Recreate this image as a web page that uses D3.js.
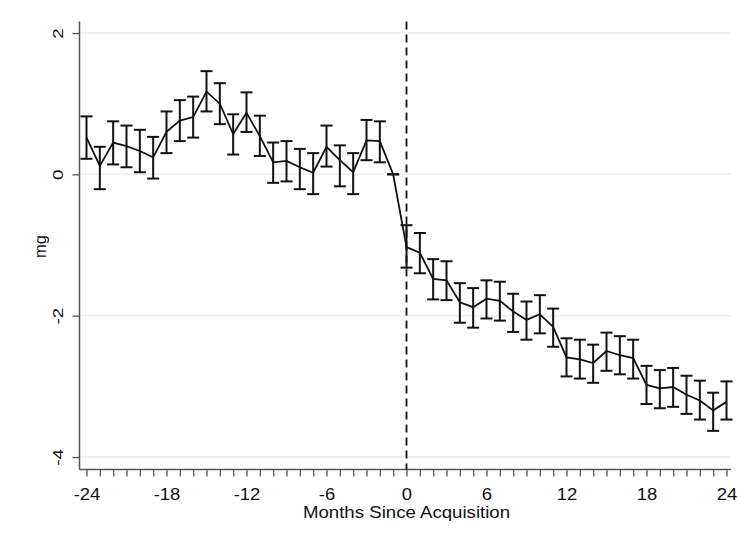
<!DOCTYPE html>
<html>
<head>
<meta charset="utf-8">
<script src="https://cdn.jsdelivr.net/npm/d3@7"></script>
<style>
  body { margin: 0; background: #fff; }
  svg text { font-family: "Liberation Sans", Arial, sans-serif; fill: #111; }
</style>
</head>
<body>
<svg width="741" height="540"></svg>
<script>
// months since acquisition
const months = d3.range(-24, 25)

// point estimates (mg)
const estimate = [
  0.52, 0.12, 0.45, 0.40, 0.33, 0.24, 0.60, 0.76, 0.81, 1.17, 1.00, 0.57,
  0.87, 0.54, 0.17, 0.19, 0.10, 0.02, 0.39, 0.20, 0.03, 0.48, 0.47, 0.00,
  -1.03, -1.11, -1.48, -1.50, -1.81, -1.88, -1.76, -1.79, -1.94, -2.06, -1.98, -2.16,
  -2.59, -2.62, -2.67, -2.50, -2.56, -2.60, -2.98, -3.03, -3.01, -3.12, -3.20, -3.34,
  -3.22
]

// upper and lower confidence bounds
const upper = [
  0.82, 0.39, 0.75, 0.69, 0.63, 0.53, 0.89, 1.05, 1.10, 1.46, 1.29, 0.85,
  1.16, 0.83, 0.45, 0.47, 0.36, 0.30, 0.69, 0.41, 0.30, 0.77, 0.75, 0.00,
  -0.72, -0.83, -1.20, -1.23, -1.54, -1.61, -1.50, -1.52, -1.69, -1.80, -1.71, -1.90,
  -2.32, -2.34, -2.41, -2.24, -2.29, -2.34, -2.71, -2.77, -2.74, -2.85, -2.92, -3.09,
  -2.93
]
const lower = [
  0.22, -0.21, 0.14, 0.10, 0.03, -0.06, 0.30, 0.47, 0.52, 0.89, 0.71, 0.28,
  0.60, 0.26, -0.12, -0.10, -0.21, -0.28, 0.11, -0.17, -0.28, 0.20, 0.17, 0.00,
  -1.32, -1.40, -1.77, -1.78, -2.10, -2.17, -2.04, -2.07, -2.23, -2.34, -2.25, -2.44,
  -2.86, -2.89, -2.95, -2.78, -2.83, -2.89, -3.25, -3.31, -3.29, -3.39, -3.47, -3.63,
  -3.47
]

const xTicks = [-24, -18, -12, -6, 0, 6, 12, 18, 24]
const yTicks = [2, 0, -2, -4]

const data = months.map((m, i) => ({ m, v: estimate[i], hi: upper[i], lo: lower[i] }))

const svg = d3.select("svg")

// scales
const x = d3.scaleLinear().domain([-24, 24]).range([86.5, 726.5])
const y = d3.scaleLinear().domain([-4, 2]).range([457, 33])

const plotLeft = 79.5, plotBottom = 469.5, plotTop = 21.5, plotRight = 731
const minus = d => d < 0 ? "-" + Math.abs(d) : d

// gridlines
svg.append("g")
  .selectAll("line")
  .data(yTicks)
  .enter()
  .append("line")
  .attr("x1", plotLeft)
  .attr("x2", plotRight)
  .attr("y1", d => y(d))
  .attr("y2", d => y(d))
  .attr("stroke", "#e8eff2")
  .attr("stroke-width", 1.5)

// y axis
const yAxis = svg.append("g")
  .attr("transform", `translate(${plotLeft},0)`)
  .call(d3.axisLeft(y).tickValues(yTicks).tickSize(7))
yAxis.select(".domain").attr("d", `M0,${plotTop}V${plotBottom}`).attr("stroke", "#555").attr("stroke-width", 1.5)
yAxis.selectAll(".tick line").attr("stroke", "#555").attr("stroke-width", 1.3)
yAxis.selectAll(".tick text")
  .attr("transform", "rotate(-90) scale(1.3,1)")
  .attr("x", 0)
  .attr("y", -17)
  .attr("dy", 0)
  .attr("text-anchor", "middle")
  .style("font-size", "14.5px")
  .text(minus)

// x axis
const xAxis = svg.append("g")
  .attr("transform", `translate(0,${plotBottom})`)
  .call(d3.axisBottom(x).tickValues(months).tickSize(7).tickFormat(d => xTicks.includes(d) ? minus(d) : ""))
xAxis.select(".domain").attr("d", `M${plotLeft},0H${plotRight}`).attr("stroke", "#555").attr("stroke-width", 1.5)
xAxis.selectAll(".tick line").attr("stroke", "#555").attr("stroke-width", 1.3)
xAxis.selectAll(".tick text")
  .attr("y", 30.5)
  .attr("dy", 0)
  .attr("transform", "scale(1.12,1)")
  .style("font-size", "16.5px")

// axis titles
svg.append("text")
  .attr("transform", `translate(${x(0)},518) scale(1.13,1)`)
  .attr("text-anchor", "middle")
  .style("font-size", "16.5px")
  .text("Months Since Acquisition")

svg.append("text")
  .attr("transform", `translate(45.5,${(plotTop + plotBottom) / 2 + 1}) rotate(-90)`)
  .attr("text-anchor", "middle")
  .style("font-size", "16.5px")
  .text("mg")

// reference line at acquisition
svg.append("line")
  .attr("x1", x(0))
  .attr("x2", x(0))
  .attr("y1", plotTop)
  .attr("y2", plotBottom)
  .attr("stroke", "#111")
  .attr("stroke-width", 1.8)
  .attr("stroke-dasharray", "8,5")

// error bars
const capW = 6
const bars = svg.append("g").attr("stroke", "#111").attr("stroke-width", 2)
bars.selectAll(".vbar")
  .data(data)
  .enter()
  .append("line")
  .attr("x1", d => x(d.m))
  .attr("x2", d => x(d.m))
  .attr("y1", d => y(d.hi))
  .attr("y2", d => y(d.lo))
bars.selectAll(".cap-hi")
  .data(data)
  .enter()
  .append("line")
  .attr("x1", d => x(d.m) - capW)
  .attr("x2", d => x(d.m) + capW)
  .attr("y1", d => y(d.hi))
  .attr("y2", d => y(d.hi))
bars.selectAll(".cap-lo")
  .data(data)
  .enter()
  .append("line")
  .attr("x1", d => x(d.m) - capW)
  .attr("x2", d => x(d.m) + capW)
  .attr("y1", d => y(d.lo))
  .attr("y2", d => y(d.lo))

// estimate line
const line = d3.line().x(d => x(d.m)).y(d => y(d.v))
svg.append("path")
  .datum(data)
  .attr("fill", "none")
  .attr("stroke", "#111")
  .attr("stroke-width", 1.8)
  .attr("d", line)
</script>
</body>
</html>
